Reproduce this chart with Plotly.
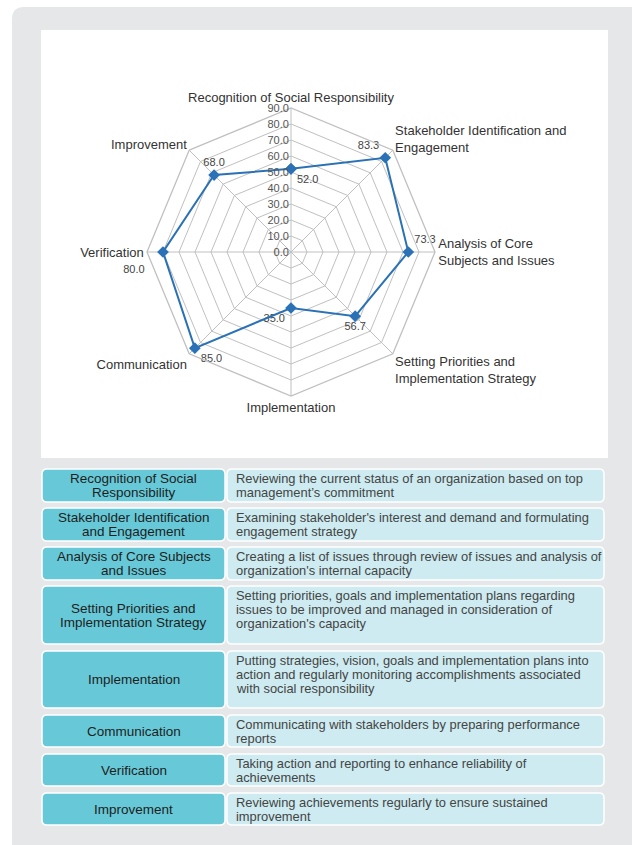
import plotly.graph_objects as go

W, H = 632, 845

# ---------------- data ----------------
radar_labels = [
    "Recognition of Social Responsibility",
    "Stakeholder Identification and<br>Engagement",
    "Analysis of Core<br>Subjects and Issues",
    "Setting Priorities and<br>Implementation Strategy",
    "Implementation",
    "Communication",
    "Verification",
    "Improvement",
]
scores = [52.0, 83.3, 73.3, 56.7, 35.0, 85.0, 80.0, 68.0]
label_positions = ["bottom right", "top left", "top right", "bottom center",
                   "bottom left", "bottom right", "bottom left", "top center"]
radial_ticks = [0, 10, 20, 30, 40, 50, 60, 70, 80, 90]

stage_lines = [
    ["Recognition of Social", "Responsibility"],
    ["Stakeholder Identification", "and Engagement"],
    ["Analysis of Core Subjects", "and Issues"],
    ["Setting Priorities and", "Implementation Strategy"],
    ["Implementation"],
    ["Communication"],
    ["Verification"],
    ["Improvement"],
]
description_lines = [
    ["Reviewing the current status of an organization based on top",
     "management’s commitment"],
    ["Examining stakeholder's interest and demand and formulating",
     "engagement strategy"],
    ["Creating a list of issues through review of issues and analysis of",
     "organization's internal capacity"],
    ["Setting priorities, goals and implementation plans regarding",
     "issues to be improved and managed in consideration of",
     "organization's capacity"],
    ["Putting strategies, vision, goals and implementation plans into",
     "action and regularly monitoring accomplishments associated",
     "with social responsibility"],
    ["Communicating with stakeholders by preparing performance",
     "reports"],
    ["Taking action and reporting to enhance reliability of",
     "achievements"],
    ["Reviewing achievements regularly to ensure sustained",
     "improvement"],
]
row_tops = [469, 508, 547, 586, 651, 715, 754, 793]
row_bots = [502, 541, 580, 644, 708, 747, 786, 825]

# ---------------- helpers ----------------
def px(x):
    return x / W

def py(y):
    return 1 - y / H

def rrect(x0, y0, x1, y1, r):
    pts = [
        f"M {px(x0 + r)},{py(y0)}",
        f"L {px(x1 - r)},{py(y0)}",
        f"Q {px(x1)},{py(y0)} {px(x1)},{py(y0 + r)}",
        f"L {px(x1)},{py(y1 - r)}",
        f"Q {px(x1)},{py(y1)} {px(x1 - r)},{py(y1)}",
        f"L {px(x0 + r)},{py(y1)}",
        f"Q {px(x0)},{py(y1)} {px(x0)},{py(y1 - r)}",
        f"L {px(x0)},{py(y0 + r)}",
        f"Q {px(x0)},{py(y0)} {px(x0 + r)},{py(y0)}",
        "Z",
    ]
    return " ".join(pts)

shapes = []
shapes.append(dict(type="path", xref="paper", yref="paper",
                   path=rrect(12, 7, 660, 880, 12),
                   fillcolor="#e6e7e9", line=dict(width=0), layer="below"))
shapes.append(dict(type="rect", xref="paper", yref="paper",
                   x0=px(41), x1=px(608), y0=py(458), y1=py(30),
                   fillcolor="#ffffff", line=dict(width=0), layer="below"))

annotations = []
LX0, LX1, RX0, RX1 = 42, 225, 227, 604
TABLE_FONT = "Liberation Sans, Arial, sans-serif"
LINE_H = 14
for i in range(len(stage_lines)):
    t, b = row_tops[i], row_bots[i]
    shapes.append(dict(type="path", xref="paper", yref="paper",
                       path=rrect(LX0, t, LX1, b, 5),
                       fillcolor="#67c9d7", line=dict(color="#ffffff", width=1.5),
                       layer="below"))
    shapes.append(dict(type="path", xref="paper", yref="paper",
                       path=rrect(RX0, t, RX1, b, 5),
                       fillcolor="#cdebf0", line=dict(color="#ffffff", width=1.5),
                       layer="below"))
    mid = (t + b) / 2
    sl = stage_lines[i]
    for j, line in enumerate(sl):
        yy = mid + (j - (len(sl) - 1) / 2) * LINE_H
        annotations.append(dict(x=px((LX0 + LX1) / 2), y=py(yy), xref="paper", yref="paper",
                                text=line, showarrow=False, xanchor="center", yanchor="middle",
                                font=dict(family=TABLE_FONT, size=13.5, color="#1e1e1e")))
    dl = description_lines[i]
    for j, line in enumerate(dl):
        yy = t + 9 + j * LINE_H
        annotations.append(dict(x=px(234), y=py(yy), xref="paper", yref="paper",
                                text=line, showarrow=False, xanchor="left", yanchor="middle",
                                font=dict(family=TABLE_FONT, size=12.9, color="#444444")))

# ---------------- radar ----------------
theta = radar_labels + [radar_labels[0]]
r = scores + [scores[0]]
texts = [f"{v:.1f}" for v in scores] + [""]
texts[6] = texts[6] + "\u00a0\u00a0"
tpos = label_positions + [label_positions[0]]
# invisible marker sizes only control how far each value label sits from its point
offset_sizes = [8, 8, 8, 8, 8, 8, 18, 8, 8]

fig = go.Figure()
fig.add_trace(go.Scatterpolar(
    r=r, theta=theta, mode="markers+text",
    text=texts, textposition=tpos,
    textfont=dict(family="Liberation Sans, Arial, sans-serif", size=11, color="#444444"),
    marker=dict(size=offset_sizes, color="rgba(0,0,0,0)", line=dict(width=0)),
    cliponaxis=False, showlegend=False, hoverinfo="skip",
))
fig.add_trace(go.Scatterpolar(
    r=r, theta=theta, mode="lines+markers",
    line=dict(color="#2a72b5", width=2),
    marker=dict(symbol="diamond", size=9, color="#2a72b5", line=dict(width=0)),
    cliponaxis=False, showlegend=False,
))

cx, cy, R = 291, 252, 144
fig.update_layout(
    width=W, height=H,
    margin=dict(l=0, r=0, t=0, b=0),
    paper_bgcolor="#ffffff",
    plot_bgcolor="#ffffff",
    shapes=shapes,
    annotations=annotations,
    polar=dict(
        domain=dict(x=[px(cx - R), px(cx + R)], y=[py(cy + R), py(cy - R)]),
        bgcolor="rgba(0,0,0,0)",
        gridshape="linear",
        radialaxis=dict(
            range=[0, 90], tickvals=radial_ticks, tickformat=".1f",
            angle=90, side="counterclockwise", tickangle=90,
            showline=False, ticks="",
            gridcolor="#c0c0c0", gridwidth=1.3,
            tickfont=dict(family="Liberation Sans, Arial, sans-serif", size=11, color="#555555"),
        ),
        angularaxis=dict(
            direction="clockwise", rotation=90,
            showline=True, linecolor="#c0c0c0", linewidth=1.3,
            gridcolor="#c0c0c0", gridwidth=1.3, ticks="",
            tickfont=dict(family="Liberation Sans, Arial, sans-serif", size=13, color="#333333"),
        ),
    ),
)

fig.write_html("out.html", config={"displayModeBar": False},
               post_script="document.body.style.margin='0';")
